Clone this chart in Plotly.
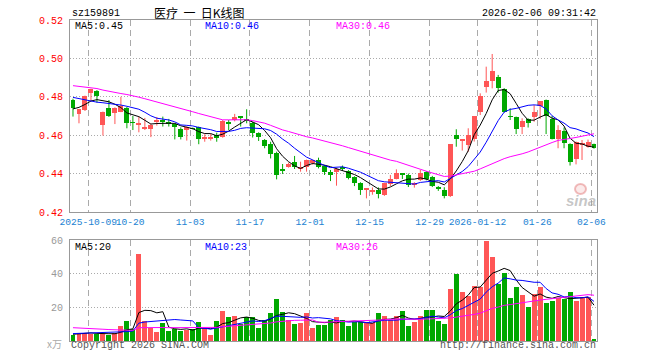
import plotly.graph_objects as go

# ---------------- data ----------------
tick_idx = [3, 10, 20, 30, 40, 50, 60, 68, 78, 87]
tick_labels = ["2025-10-09", "10-20", "11-03", "11-17", "12-01", "12-15",
               "12-29", "2026-01-12", "01-26", "02-06"]

open_ = [
    0.4784, 0.4711, 0.4731, 0.4822, 0.4830, 0.4653, 0.4740, 0.4714, 0.4723, 0.4744,
    0.4667, 0.4658, 0.4631, 0.4634, 0.4671, 0.4676, 0.4670, 0.4658, 0.4634, 0.4627,
    0.4636, 0.4641, 0.4585, 0.4585, 0.4601, 0.4592, 0.4667, 0.4679, 0.4695, 0.4684,
    0.4666, 0.4613, 0.4576, 0.4554, 0.4505, 0.4424, 0.4436, 0.4462, 0.4427, 0.4436,
    0.4457, 0.4471, 0.4441, 0.4407, 0.4407, 0.4432, 0.4413, 0.4384, 0.4352, 0.4318,
    0.4306, 0.4316, 0.4286, 0.4346, 0.4372, 0.4398, 0.4395, 0.4345, 0.4367, 0.4410,
    0.4384, 0.4332, 0.4315, 0.4284, 0.4601, 0.4570, 0.4549, 0.4579, 0.4723, 0.4853,
    0.4882, 0.4905, 0.4839, 0.4699, 0.4693, 0.4645, 0.4685, 0.4697, 0.4752, 0.4784,
    0.4686, 0.4580, 0.4624, 0.4555, 0.4478, 0.4548, 0.4540, 0.4553]
high = [
    0.4790, 0.4736, 0.4806, 0.4842, 0.4835, 0.4723, 0.4783, 0.4745, 0.4800, 0.4748,
    0.4700, 0.4697, 0.4690, 0.4660, 0.4695, 0.4697, 0.4685, 0.4662, 0.4641, 0.4646,
    0.4640, 0.4645, 0.4605, 0.4606, 0.4613, 0.4679, 0.4679, 0.4711, 0.4699, 0.4735,
    0.4670, 0.4615, 0.4580, 0.4566, 0.4514, 0.4450, 0.4457, 0.4492, 0.4462, 0.4473,
    0.4473, 0.4483, 0.4445, 0.4419, 0.4428, 0.4442, 0.4418, 0.4386, 0.4355, 0.4323,
    0.4328, 0.4328, 0.4352, 0.4393, 0.4422, 0.4400, 0.4400, 0.4355, 0.4420, 0.4413,
    0.4388, 0.4335, 0.4329, 0.4554, 0.4631, 0.4580, 0.4636, 0.4700, 0.4818, 0.4957,
    0.5023, 0.4914, 0.4845, 0.4740, 0.4697, 0.4688, 0.4688, 0.4757, 0.4777, 0.4786,
    0.4700, 0.4652, 0.4640, 0.4558, 0.4567, 0.4575, 0.4577, 0.4556]
low = [
    0.4697, 0.4662, 0.4726, 0.4775, 0.4770, 0.4598, 0.4695, 0.4658, 0.4720, 0.4636,
    0.4627, 0.4615, 0.4627, 0.4590, 0.4650, 0.4645, 0.4645, 0.4578, 0.4578, 0.4572,
    0.4630, 0.4553, 0.4566, 0.4572, 0.4566, 0.4587, 0.4627, 0.4672, 0.4645, 0.4662,
    0.4588, 0.4570, 0.4532, 0.4479, 0.4370, 0.4398, 0.4431, 0.4424, 0.4410, 0.4410,
    0.4447, 0.4427, 0.4393, 0.4361, 0.4337, 0.4415, 0.4370, 0.4335, 0.4289, 0.4271,
    0.4290, 0.4271, 0.4284, 0.4335, 0.4370, 0.4372, 0.4330, 0.4327, 0.4362, 0.4365,
    0.4330, 0.4310, 0.4271, 0.4278, 0.4540, 0.4520, 0.4514, 0.4567, 0.4705, 0.4822,
    0.4844, 0.4822, 0.4718, 0.4679, 0.4606, 0.4606, 0.4640, 0.4670, 0.4685, 0.4606,
    0.4578, 0.4532, 0.4532, 0.4442, 0.4448, 0.4471, 0.4535, 0.4530]
close = [
    0.4744, 0.4735, 0.4804, 0.4839, 0.4804, 0.4723, 0.4700, 0.4740, 0.4752, 0.4665,
    0.4664, 0.4662, 0.4645, 0.4655, 0.4679, 0.4672, 0.4660, 0.4641, 0.4593, 0.4642,
    0.4634, 0.4582, 0.4592, 0.4592, 0.4585, 0.4675, 0.4663, 0.4697, 0.4691, 0.4679,
    0.4614, 0.4592, 0.4546, 0.4502, 0.4394, 0.4418, 0.4450, 0.4436, 0.4436, 0.4471,
    0.4470, 0.4436, 0.4407, 0.4395, 0.4424, 0.4428, 0.4376, 0.4353, 0.4315, 0.4321,
    0.4315, 0.4296, 0.4350, 0.4370, 0.4402, 0.4394, 0.4340, 0.4350, 0.4402, 0.4370,
    0.4334, 0.4318, 0.4283, 0.4554, 0.4580, 0.4579, 0.4601, 0.4700, 0.4804, 0.4882,
    0.4935, 0.4844, 0.4723, 0.4696, 0.4631, 0.4676, 0.4666, 0.4723, 0.4776, 0.4698,
    0.4580, 0.4625, 0.4558, 0.4461, 0.4566, 0.4562, 0.4566, 0.4535]
volume = [
    3.8, 5.0, 5.0, 4.4, 4.4, 4.4, 3.4, 5.0, 8.7, 11.7,
    7.4, 51.7, 11.7, 7.7, 5.2, 10.7, 5.8, 7.0, 5.8, 6.8,
    7.0, 11.3, 7.7, 3.4, 11.7, 17.7, 14.1, 14.9, 10.3, 14.1,
    14.1, 7.7, 12.7, 16.7, 24.8, 17.3, 12.3, 10.1, 10.7, 16.7,
    7.7, 9.7, 9.7, 12.5, 14.1, 12.7, 8.7, 11.3, 11.3, 10.7,
    10.7, 16.7, 14.7, 12.3, 14.7, 17.7, 8.7, 11.3, 14.7, 18.3,
    18.3, 11.7, 9.9, 30.8, 39.7, 29.2, 26.6, 32.6, 32.2, 59.6,
    49.9, 33.6, 40.5, 25.6, 32.0, 27.2, 20.3, 28.0, 32.2, 22.6,
    23.6, 25.6, 24.8, 29.2, 23.8, 26.2, 26.2, 1.0]

# moving-average values at the start of the window (read from the picture,
# their averaging windows reach back before the first visible day)
ma5_head = [0.4737, 0.4745, 0.4760, 0.4778]
ma10_head = [0.4797, 0.4790, 0.4783, 0.4777, 0.4772, 0.4769, 0.4766, 0.4762, 0.4757]
ma30_head = [0.4858, 0.4855, 0.4852, 0.4848, 0.4843, 0.4835, 0.4828, 0.4822, 0.4817,
             0.4812, 0.4806, 0.4798, 0.4790, 0.4782, 0.4773, 0.4765, 0.4757, 0.4748,
             0.4740, 0.4731, 0.4722, 0.4713, 0.4704, 0.4695, 0.4687, 0.4680, 0.4680,
             0.4680, 0.4679]
vma5_head = [4.0, 4.2, 4.5, 4.8]
vma10_head = [4.4, 4.5, 4.6, 4.6, 4.7, 4.8, 4.9, 5.1, 5.5]
vma30_head = [7.9, 7.8, 7.6, 7.4, 7.2, 7.0, 6.8, 6.6, 6.5, 6.4, 6.3, 7.9, 8.0, 8.0,
              7.9, 8.0, 7.9, 7.9, 7.8, 7.8, 7.8, 8.0, 8.0, 7.9, 8.1, 8.5, 8.8, 9.1, 9.3]

header_code = "sz159891"
title_text = "医疗  一  日K线图"
time_text = "2026-02-06 09:31:42"
price_ma_labels = ["MA5:0.45", "MA10:0.46", "MA30:0.46"]
vol_ma_labels = ["MA5:20", "MA10:23", "MA30:26"]

# ---------------- derived ----------------
def moving_avg(vals, w, head):
    out = []
    for i in range(len(vals)):
        if i < w - 1:
            out.append(head[i])
        else:
            out.append(sum(vals[i - w + 1:i + 1]) / w)
    return out

n = len(close)
idx = list(range(n))
RED = "#ff5656"
GREEN = "#00a800"
MA_COLORS = ["#000000", "#0000ff", "#ff00ff"]
up = [c >= o for o, c in zip(open_, close)]
colors = [RED if u else GREEN for u in up]

ma5 = moving_avg(close, 5, ma5_head)
ma10 = moving_avg(close, 10, ma10_head)
ma30 = moving_avg(close, 30, ma30_head)
vma5 = moving_avg(volume, 5, vma5_head)
vma10 = moving_avg(volume, 10, vma10_head)
vma30 = moving_avg(volume, 30, vma30_head)

fig = go.Figure()

# wicks
for want, col in ((True, RED), (False, GREEN)):
    wx, wy = [], []
    for i in idx:
        if up[i] == want:
            wx += [i, i, None]
            wy += [low[i], high[i], None]
    fig.add_trace(go.Scatter(x=wx, y=wy, mode="lines", line=dict(color=col, width=1),
                             xaxis="x", yaxis="y", hoverinfo="skip"))

# bodies
body_base = [min(o, c) for o, c in zip(open_, close)]
body_h = [max(abs(c - o), 0.00007) for o, c in zip(open_, close)]
fig.add_trace(go.Bar(x=idx, y=body_h, base=body_base, width=0.83,
                     marker=dict(color=colors, line=dict(width=0)),
                     xaxis="x", yaxis="y"))

for series, col in zip((ma5, ma10, ma30), MA_COLORS):
    fig.add_trace(go.Scatter(x=idx, y=series, mode="lines", line=dict(color=col, width=1),
                             xaxis="x", yaxis="y"))

# volume
fig.add_trace(go.Bar(x=idx, y=volume, width=0.83,
                     marker=dict(color=colors, line=dict(width=0)),
                     xaxis="x2", yaxis="y2"))
for series, col in zip((vma5, vma10, vma30), MA_COLORS):
    fig.add_trace(go.Scatter(x=idx, y=series, mode="lines", line=dict(color=col, width=1),
                             xaxis="x2", yaxis="y2"))

# ---------------- layout ----------------
L, R, T, B = 70, 597, 20, 341
W, H = R - L, B - T


def px(xp):
    return (xp - L) / W


def py(yp):
    return (B - yp) / H


MONO = "Liberation Mono, DejaVu Sans Mono, monospace"
grid_v = dict(showgrid=True, gridcolor="#aaaaaa", griddash="6px,4px", gridwidth=1)
grid_h = dict(showgrid=True, gridcolor="#aaaaaa", griddash="1px,2px", gridwidth=1)
tickpos = [t - 0.45 for t in tick_idx]

fig.update_layout(
    width=660, height=360,
    margin=dict(l=L, r=660 - R, t=T, b=360 - B),
    paper_bgcolor="white", plot_bgcolor="white",
    showlegend=False, barmode="overlay", bargap=0,
    xaxis=dict(domain=[0, 1], anchor="y", range=[-0.5, 87.5], tickmode="array",
               tickvals=tickpos, ticktext=tick_labels, tickangle=0, ticks="",
               tickfont=dict(family=MONO, size=9.6, color="#1a82d2"),
               showline=True, linecolor="#999999", linewidth=1, mirror=True,
               zeroline=False, fixedrange=True, **grid_v),
    yaxis=dict(domain=[py(212), py(20)], anchor="x", range=[0.42, 0.52],
               tickmode="array", tickvals=[0.42, 0.44, 0.46, 0.48, 0.50, 0.52],
               tickformat=".2f", ticks="", ticklabelstandoff=4,
               tickfont=dict(family=MONO, size=10, color="#ff0000"),
               showline=True, linecolor="#999999", linewidth=1, mirror=True,
               zeroline=False, **grid_h),
    xaxis2=dict(domain=[0, 1], anchor="y2", range=[-0.5, 87.5], tickmode="array",
                tickvals=tickpos, showticklabels=False, ticks="",
                showline=True, linecolor="#999999", linewidth=1, mirror=True,
                zeroline=False, **grid_v),
    yaxis2=dict(domain=[0, py(240)], anchor="x2", range=[0, 60],
                tickmode="array", tickvals=[20, 40, 60], ticks="", ticklabelstandoff=4,
                tickfont=dict(family=MONO, size=10, color="#999999"),
                showline=True, linecolor="#999999", linewidth=1, mirror=True,
                zeroline=False, **grid_h),
)

ann = []


def add_text(text, x, y, color="#000000", anchor="left", size=10, family=MONO, **kw):
    ann.append(dict(text=text, x=px(x), y=py(y), xref="paper", yref="paper",
                    xanchor=anchor, yanchor="middle", showarrow=False,
                    font=dict(family=family, size=size, color=color, **kw)))


add_text(header_code, 70, 13)
add_text(title_text, 199, 12, anchor="center", size=12, family="Noto Sans CJK SC")
add_text(time_text, 598, 13, anchor="right")
for lab, col, x in zip(price_ma_labels, MA_COLORS, (73, 203, 334)):
    add_text(lab, x, 26, color=col)
for lab, col, x in zip(vol_ma_labels, MA_COLORS, (73, 203, 334)):
    add_text(lab, x, 247, color=col)
add_text("Copyright 2026 SINA.COM", 69, 346, color="#555555")
add_text("http://finance.sina.com.cn", 598, 346, color="#555555", anchor="right")
add_text("x万", 64, 343, color="#aaaaaa", anchor="right", size=10, family="Noto Sans CJK SC")
# sina watermark
add_text("sina", 581, 200, color="rgba(150,150,150,0.55)", anchor="center", size=15,
         family="Liberation Sans", weight="bold", style="italic")
fig.update_layout(annotations=ann)
fig.add_shape(type="circle", xref="paper", yref="paper",
              x0=px(575), x1=px(586), y0=py(194), y1=py(184),
              line=dict(color="rgba(225,110,110,0.45)", width=2),
              fillcolor="rgba(240,170,170,0.25)")

fig.write_html("out.html")
